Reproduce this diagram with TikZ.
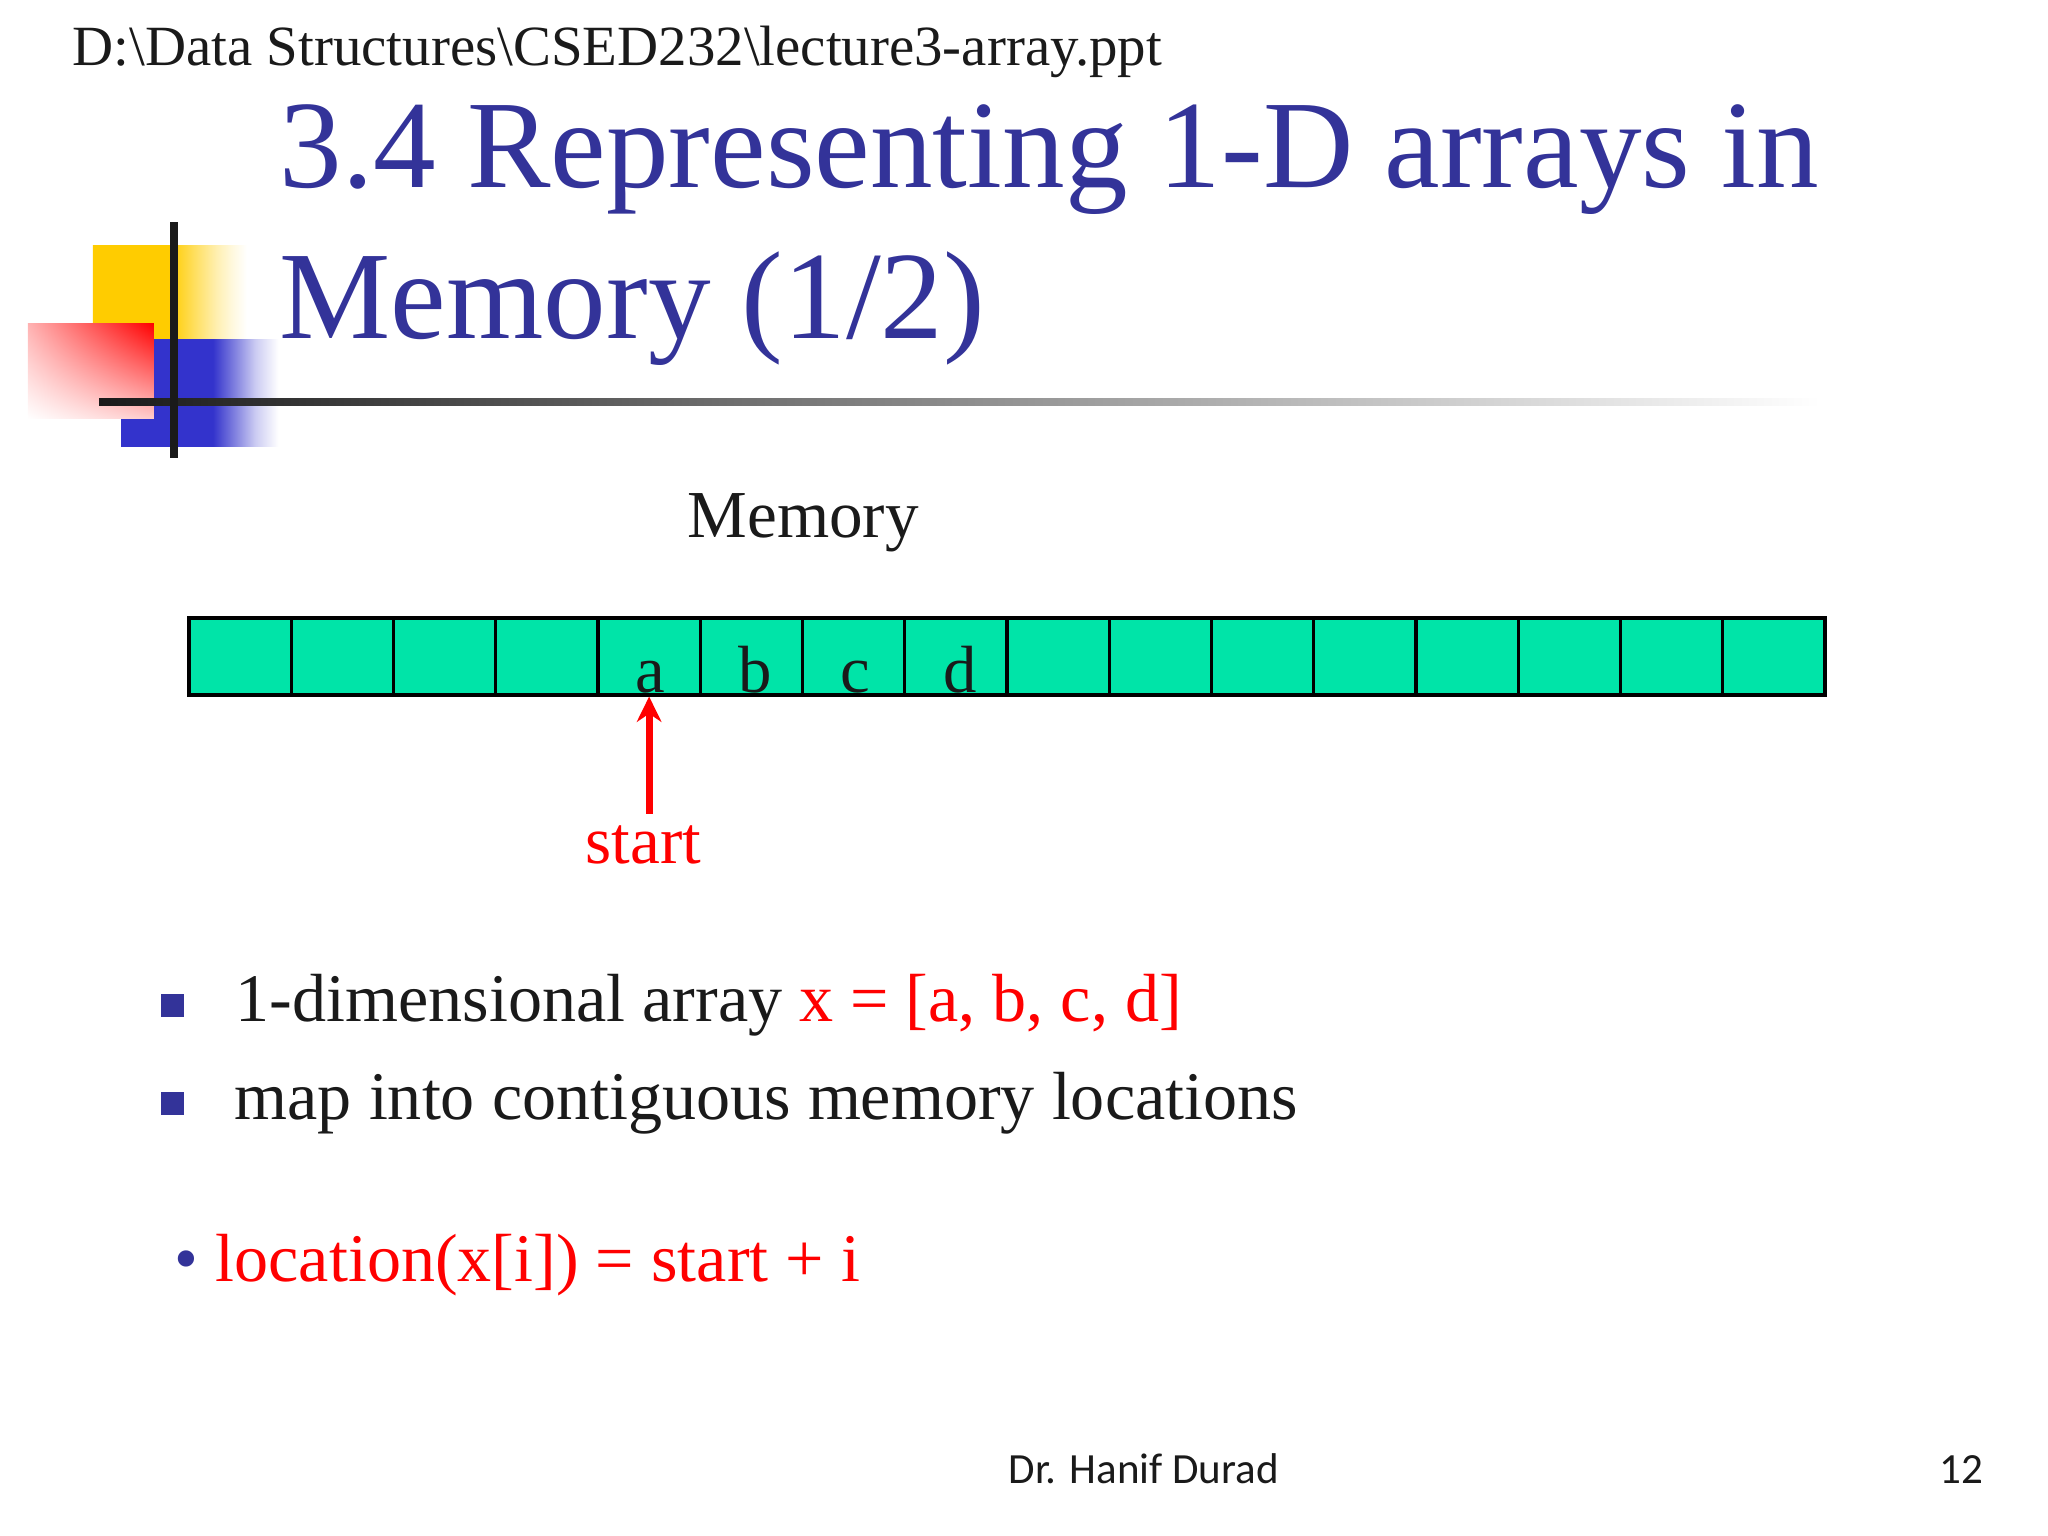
\documentclass[tikz,border=0pt]{standalone}
\usepackage{fontspec}
\setmainfont{Liberation Serif}
\setsansfont{Carlito}
\usepackage{xcolor}
\usetikzlibrary{arrows.meta,positioning,calc,shadings}
\definecolor{titleblue}{RGB}{51, 51, 153}
\definecolor{cellgreen}{RGB}{0, 228, 168}
\definecolor{logoyellow}{RGB}{255, 204, 0}
\definecolor{logoblue}{RGB}{51, 51, 204}
\definecolor{inkblack}{RGB}{26, 26, 26}
\pgfdeclarehorizontalshading{yellowfade}{100bp}{color(0bp)=(logoyellow); color(49.5bp)=(logoyellow); color(52bp)=(logoyellow!88); color(59bp)=(logoyellow!55); color(64.5bp)=(logoyellow!30); color(69.6bp)=(logoyellow!12); color(74bp)=(white); color(100bp)=(white)}
\pgfdeclarehorizontalshading{bluefade}{100bp}{color(0bp)=(logoblue); color(53bp)=(logoblue); color(60bp)=(logoblue!60); color(66bp)=(logoblue!25); color(73bp)=(white); color(100bp)=(white)}

\begin{document}
\begin{tikzpicture}
    % Define styles
    \tikzstyle{cell} = [rectangle, draw=black, line width=0.9pt, fill=cellgreen, minimum width=1.0235cm, minimum height=0.77cm, inner sep=0pt]
    \tikzstyle{titletext} = [anchor=base west, inner sep=0pt, text=titleblue, font=\fontsize{35.6}{40}\selectfont]
    \tikzstyle{bodytext} = [anchor=base west, inner sep=0pt, text=inkblack, font=\fontsize{19.38}{23}\selectfont]
    \tikzstyle{labeltext} = [anchor=base west, inner sep=0pt, text=inkblack, font=\fontsize{19.1}{23}\selectfont]
    \tikzstyle{letter} = [anchor=base, inner sep=0pt, text=inkblack, font=\fontsize{19}{23}\selectfont]
    \tikzstyle{redtext} = [bodytext, text=red]
    \tikzstyle{footer} = [anchor=base west, inner sep=0pt, text=inkblack, font=\sffamily\fontsize{12.25}{15}\selectfont]
    \tikzstyle{bullet} = [rectangle, fill=titleblue, minimum size=0.23cm, inner sep=0pt]
    \tikzstyle{redarrow} = [red, line width=2pt, -{Stealth[length=7.2pt, width=7pt]}]

    \useasboundingbox (0,0) rectangle (20.48,-15.36);

    % Logo
    \shade[shading=yellowfade] (0.93,-2.46) rectangle (2.50,-3.40);
    \shade[shading=bluefade] (1.21,-3.40) rectangle (2.85,-4.47);
    \shade[upper right=red, upper left=red!30, lower left=white, lower right=red!20] (0.28,-3.24) rectangle (1.54,-4.19);
    \shade[left color=inkblack, right color=white] (0.99,-3.99) rectangle (18.2,-4.06);
    \fill[inkblack] (1.70,-2.22) rectangle (1.78,-4.58);

    % Header
    \node[anchor=base west, inner sep=0pt, text=inkblack, font=\fontsize{16.18}{19}\selectfont] (path) at (0.72,-0.66) {D:\textbackslash Data Structures\textbackslash CSED232\textbackslash lecture3-array.ppt};
    \node[titletext] (title1) at (2.79,-1.875) {3.4 Representing 1-D arrays in};
    \node[titletext] (title2) at (2.79,-3.385) {Memory (1/2)};

    % Memory
    \node[labeltext] (memory) at (6.87,-5.38) {Memory};
    \foreach \i in {1,...,16} {
        \node[cell] (cell\i) at ({1.89+(\i-0.5)*1.0225},-6.565) {};
    }
    \node[letter] (a) at (6.50,-6.93) {a};
    \node[letter] (b) at (7.55,-6.93) {b};
    \node[letter] (c) at (8.55,-6.93) {c};
    \node[letter] (d) at (9.60,-6.93) {d};

    % Start pointer
    \node[labeltext, text=red] (start) at (5.85,-8.64) {start};
    \coordinate[below=1.17cm of cell5.south] (tail);
    \draw[redarrow] (tail) -- (cell5.south);

    % Bullets
    \node[bullet] (bullet1) at (1.725,-10.05) {};
    \node[bodytext] (line1) at (2.35,-10.21) {1-dimensional array \textcolor{red}{x = [a, b, c, d]}};
    \node[bullet] (bullet2) at (1.725,-11.03) {};
    \node[bodytext] (line2) at (2.34,-11.19) {map into contiguous memory locations};
    \node[redtext, text=titleblue] (dot) at (1.74,-12.81) {•};
    \node[redtext] (line3) at (2.15,-12.81) {location(x[i]) = start + i};

    % Footer
    \node[footer] (author) at (10.08,-14.83) {Dr. Hanif Durad};
    \node[footer] (page) at (19.39,-14.83) {12};
\end{tikzpicture}
\end{document}
